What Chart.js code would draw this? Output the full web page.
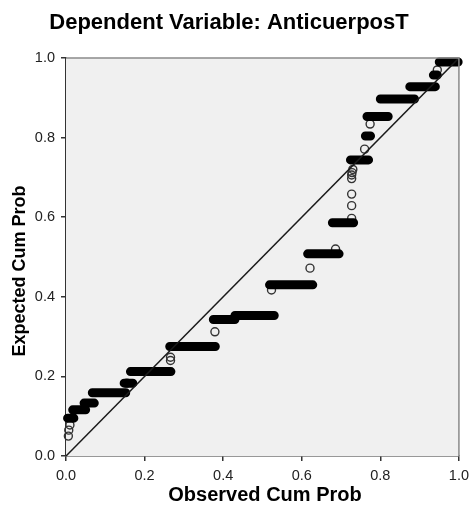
<!DOCTYPE html>
<html>
<head>
<meta charset="utf-8">
<script src="https://cdn.jsdelivr.net/npm/chart.js@4/dist/chart.umd.min.js"></script>
<style>
  html, body { margin: 0; padding: 0; background: #fff; }
  #wrap { width: 475px; height: 517px; }
</style>
</head>
<body>
<div id="wrap"><canvas id="ppPlot" width="475" height="517"></canvas></div>
<script>
// --- Data ---
// horizontal runs of tied points: start x, end x, expected cum prob
const runStart = [0.004, 0.017, 0.046, 0.067, 0.148, 0.164, 0.264, 0.375, 0.430, 0.518, 0.615, 0.678, 0.724, 0.762, 0.766, 0.800, 0.875, 0.935, 0.950];
const runEnd   = [0.020, 0.050, 0.072, 0.152, 0.170, 0.267, 0.380, 0.430, 0.530, 0.628, 0.695, 0.732, 0.770, 0.775, 0.820, 0.887, 0.940, 0.945, 0.998];
const runProb  = [0.095, 0.116, 0.133, 0.159, 0.183, 0.212, 0.275, 0.343, 0.353, 0.430, 0.508, 0.586, 0.744, 0.804, 0.853, 0.897, 0.928, 0.957, 0.990];

// single points between the runs
const pointObs = [0.006, 0.007, 0.010, 0.155, 0.266, 0.266, 0.379, 0.523, 0.621, 0.686, 0.727, 0.727, 0.727, 0.727, 0.727, 0.728, 0.730, 0.760, 0.774, 0.945];
const pointExp = [0.050, 0.065, 0.078, 0.183, 0.240, 0.248, 0.312, 0.417, 0.472, 0.520, 0.597, 0.629, 0.658, 0.697, 0.706, 0.712, 0.720, 0.771, 0.834, 0.970];

const tickValues = [0, 0.2, 0.4, 0.6, 0.8, 1.0];

const FONT = "'Liberation Sans', Arial, sans-serif";

// build the run segments, null breaks the line between runs
const runData = [];
runStart.forEach((x0, i) => {
    runData.push({ x: x0, y: runProb[i] });
    runData.push({ x: runEnd[i], y: runProb[i] });
    runData.push({ x: runEnd[i], y: null });
});
const pointData = pointObs.map((x, i) => ({ x: x, y: pointExp[i] }));

// plot background, frame and titles
const frame = {
    id: 'frame',
    beforeDatasetsDraw(chart) {
        const { ctx, chartArea: a } = chart;
        ctx.save();
        ctx.fillStyle = '#f0f0f0';
        ctx.fillRect(a.left, a.top, a.right - a.left, a.bottom - a.top);
        ctx.restore();
    },
    afterDraw(chart) {
        const { ctx, chartArea: a } = chart;
        ctx.save();
        ctx.strokeStyle = '#8a8a8a';
        ctx.lineWidth = 1.5;
        ctx.beginPath();
        ctx.moveTo(a.left, a.top);
        ctx.lineTo(a.right, a.top);
        ctx.lineTo(a.right, a.bottom);
        ctx.stroke();

        ctx.fillStyle = '#000';
        ctx.textAlign = 'center';
        ctx.textBaseline = 'middle';
        ctx.font = 'bold 22px ' + FONT;
        ctx.fillText('Dependent Variable: AnticuerposT', 229, 23);
        ctx.font = 'bold 20px ' + FONT;
        ctx.fillText('Observed Cum Prob', 265, 495);
        ctx.font = 'bold 18px ' + FONT;
        ctx.translate(20, 271);
        ctx.rotate(-Math.PI / 2);
        ctx.fillText('Expected Cum Prob', 0, 0);
        ctx.restore();
    }
};

const axisStyle = (size) => ({
    type: 'linear',
    min: 0,
    max: 1,
    afterBuildTicks: scale => { scale.ticks = tickValues.map(v => ({ value: v })); },
    afterFit: scale => {
        if (scale.isHorizontal()) scale.height = size; else scale.width = size;
    },
    grid: { drawOnChartArea: false, drawTicks: true, tickLength: 5, color: '#333', lineWidth: 1.5 },
    border: { display: true, color: '#333', width: 1.5 },
    ticks: {
        color: '#222',
        padding: 6,
        font: { family: FONT, size: 14.5 },
        callback: v => Number(v).toFixed(1)
    },
    title: { display: false }
});

new Chart(document.getElementById('ppPlot'), {
    type: 'scatter',
    data: {
        datasets: [
            {
                label: 'diagonal',
                data: [{ x: 0, y: 0 }, { x: 1, y: 1 }],
                showLine: true,
                borderColor: '#1a1a1a',
                borderWidth: 1.5,
                pointRadius: 0
            },
            {
                label: 'runs',
                data: runData,
                showLine: true,
                spanGaps: false,
                borderColor: '#000',
                borderWidth: 9,
                borderCapStyle: 'round',
                pointRadius: 0,
                clip: false
            },
            {
                label: 'points',
                data: pointData,
                pointRadius: 4,
                pointBorderWidth: 1.4,
                borderColor: '#333',
                backgroundColor: 'rgba(0,0,0,0)',
                clip: false
            }
        ]
    },
    options: {
        responsive: false,
        animation: false,
        layout: { padding: { top: 58, right: 10, left: 0, bottom: 0 } },
        plugins: { legend: { display: false }, tooltip: { enabled: false }, title: { display: false } },
        scales: {
            x: axisStyle(61),
            y: axisStyle(66)
        }
    },
    plugins: [frame]
});
</script>
</body>
</html>
